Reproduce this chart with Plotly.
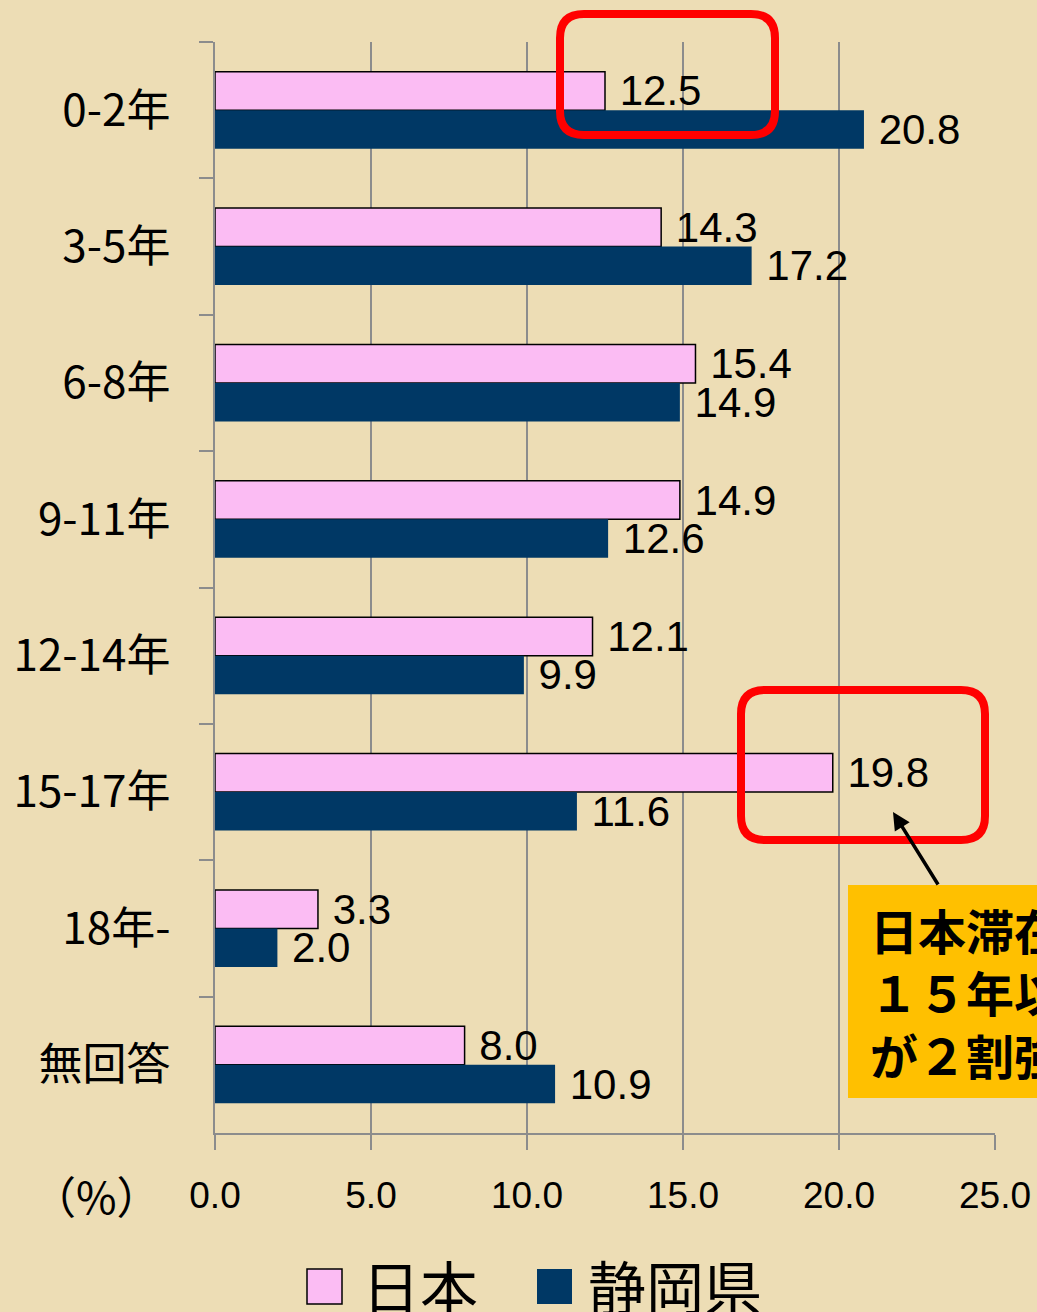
import plotly.graph_objects as go

categories = ["0-2年", "3-5年", "6-8年", "9-11年", "12-14年", "15-17年", "18年-", "無回答"]
japan = [12.5, 14.3, 15.4, 14.9, 12.1, 19.8, 3.3, 8.0]
shizuoka = [20.8, 17.2, 14.9, 12.6, 9.9, 11.6, 2.0, 10.9]
series_names = ["日本", "静岡県"]
x_ticks = [0, 5, 10, 15, 20, 25]

PINK = "#FBBCF3"
NAVY = "#003865"
BG = "#EDDDB5"
CJK = "Noto Sans CJK JP"

W, H = 1037, 1312
L, R, T, B = 215, 995, 42, 1133


def px(x):
    return (x - L) / (R - L)


def py(y):
    return (B - y) / (B - T)


def rounded_rect(x0, y0, x1, y1, r):
    rx = r / (R - L)
    ry = r / (B - T)
    X0, X1 = px(x0), px(x1)
    Y0, Y1 = py(y0), py(y1)
    return (
        f"M {X0+rx},{Y0} L {X1-rx},{Y0} Q {X1},{Y0} {X1},{Y0-ry} "
        f"L {X1},{Y1+ry} Q {X1},{Y1} {X1-rx},{Y1} "
        f"L {X0+rx},{Y1} Q {X0},{Y1} {X0},{Y1+ry} "
        f"L {X0},{Y0-ry} Q {X0},{Y0} {X0+rx},{Y0} Z"
    )


fig = go.Figure()
fig.add_trace(go.Bar(
    y=categories, x=japan, orientation="h", name=series_names[0],
    marker=dict(color=PINK, line=dict(color="black", width=1.5)),
    texttemplate="\u00a0%{x:.1f}", textposition="outside",
    textfont=dict(family="Liberation Sans", size=42, color="black"),
    constraintext="none", cliponaxis=False, showlegend=False,
))
fig.add_trace(go.Bar(
    y=categories, x=shizuoka, orientation="h", name=series_names[1],
    marker=dict(color=NAVY, line=dict(color=NAVY, width=0)),
    texttemplate="\u00a0%{x:.1f}", textposition="outside",
    textfont=dict(family="Liberation Sans", size=42, color="black"),
    constraintext="none", cliponaxis=False, showlegend=False,
))

shapes = [
    dict(type="path", xref="paper", yref="paper", path=rounded_rect(560, 14, 775, 135, 24),
         line=dict(color="#FF0000", width=8), layer="above"),
    dict(type="path", xref="paper", yref="paper", path=rounded_rect(741, 690, 985, 840, 24),
         line=dict(color="#FF0000", width=8), layer="above"),
    dict(type="rect", xref="paper", yref="paper", x0=px(848), x1=px(1100), y0=py(885), y1=py(1098),
         fillcolor="#FFC000", line=dict(width=0), layer="above"),
    # legend swatches
    dict(type="rect", xref="paper", yref="paper", x0=px(307), x1=px(342), y0=py(1269), y1=py(1304),
         fillcolor=PINK, line=dict(color="black", width=1.5)),
    dict(type="rect", xref="paper", yref="paper", x0=px(537), x1=px(572), y0=py(1269), y1=py(1304),
         fillcolor=NAVY, line=dict(width=0)),
]

annotations = [
    dict(xref="paper", yref="paper", x=px(893), y=py(812), ax=46, ay=74, text="",
         showarrow=True, arrowhead=2, arrowsize=1, arrowwidth=3.5, arrowcolor="black"),
    dict(xref="paper", yref="paper", x=px(868), y=py(991), xanchor="left", yanchor="middle",
         align="left", showarrow=False,
         text="<b>日本滞在</b><br><b>１５年以上</b><br><b>が２割強</b>",
         font=dict(family=CJK, size=48, color="black")),
    dict(xref="paper", yref="paper", x=px(163), y=py(1195), xanchor="right", yanchor="middle",
         showarrow=False, text="（%）", font=dict(family=CJK, size=44, color="black")),
    dict(xref="paper", yref="paper", x=px(360), y=py(1285), xanchor="left", yanchor="middle",
         showarrow=False, text=series_names[0], font=dict(family=CJK, size=58, color="black")),
    dict(xref="paper", yref="paper", x=px(586), y=py(1285), xanchor="left", yanchor="middle",
         showarrow=False, text=series_names[1], font=dict(family=CJK, size=58, color="black")),
]

fig.update_layout(
    width=W, height=H,
    margin=dict(l=L, r=W - R, t=T, b=H - B, pad=0, autoexpand=False),
    paper_bgcolor=BG, plot_bgcolor=BG,
    barmode="group", bargap=0.435, bargroupgap=0,
    shapes=shapes, annotations=annotations,
    showlegend=False,
)
fig.update_xaxes(
    range=[0, 25], tickvals=x_ticks, tickformat=".1f", automargin=False,
    showgrid=True, gridcolor="#8C8C8C", gridwidth=1.5,
    showline=True, linecolor="#8C8C8C", linewidth=1.5,
    ticks="outside", ticklen=15, tickcolor="#8C8C8C", tickwidth=1.5,
    tickfont=dict(family="Liberation Sans Narrow, Liberation Sans", size=37, color="black"),
    ticklabelstandoff=14, zeroline=False, fixedrange=True,
)
fig.update_yaxes(
    type="category", categoryorder="array", categoryarray=categories,
    autorange="reversed", automargin=False,
    showgrid=False, showline=True, linecolor="#8C8C8C", linewidth=1.5,
    ticks="outside", tickson="boundaries", ticklen=14, tickcolor="#8C8C8C", tickwidth=1.5,
    tickfont=dict(family=CJK, size=44, color="black"),
    ticklabelstandoff=34, fixedrange=True,
)

fig.write_html(
    "out.html",
    config={"displayModeBar": False},
    post_script="document.body.style.margin='0';document.body.style.padding='0';document.body.style.overflow='hidden';",
)
